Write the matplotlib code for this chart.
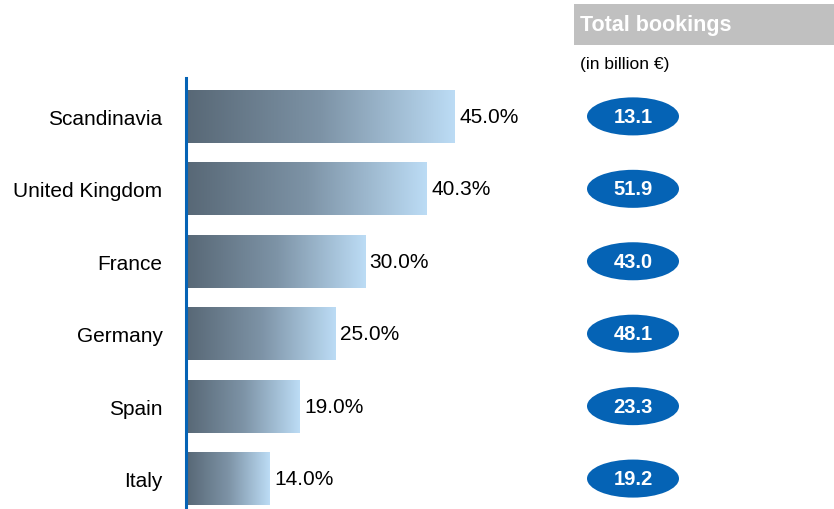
import numpy as np
import matplotlib.pyplot as plt
import matplotlib as mpl
from matplotlib.patches import Ellipse, Rectangle
from matplotlib.colors import LinearSegmentedColormap

mpl.rcParams['font.family'] = ['Liberation Sans', 'DejaVu Sans']

countries = ['Scandinavia', 'United Kingdom', 'France', 'Germany', 'Spain', 'Italy']
shares = [45.0, 40.3, 30.0, 25.0, 19.0, 14.0]
bookings = [13.1, 51.9, 43.0, 48.1, 23.3, 19.2]

W, H = 834, 510
fig = plt.figure(figsize=(W / 100, H / 100), dpi=100)

# main bar axes: x=0 sits at pixel ~186, 5.98 px per percent
ax = fig.add_axes([185.5 / W, 0, 60 * 5.98 / W, 431 / H])
grad = LinearSegmentedColormap.from_list('g', ['#586876', '#7d93a6', '#bcdcf5'])
ramp = np.linspace(0, 1, 256).reshape(1, -1)
bh = 0.73
for i, v in enumerate(shares):
    ax.imshow(ramp, cmap=grad, aspect='auto', interpolation='bicubic',
              extent=(0.2, v, i + bh / 2, i - bh / 2), zorder=2)
    ax.text(v + 0.8, i, f'{v:.1f}%', va='center', ha='left', fontsize=15)
ax.set_xlim(0, 60)
ax.set_ylim(5.42, -0.53)

ax.set_yticks(range(len(countries)))
ax.set_yticklabels(countries, fontsize=15)
ax.tick_params(axis='y', length=0, pad=16.5)
ax.set_xticks([])
for s in ['top', 'right', 'bottom']:
    ax.spines[s].set_visible(False)
ax.spines['left'].set_color('#0563b5')
ax.spines['left'].set_linewidth(2.2)

# bookings ellipses on the right
ax2 = fig.add_axes([574 / W, 0, 260 / W, 431 / H])
ax2.set_xlim(0, 260)
ax2.set_ylim(5.42, -0.53)
ax2.axis('off')
for i, b in enumerate(bookings):
    ax2.add_patch(Ellipse((59, i), 92, 0.525, facecolor='#0563b5', edgecolor='none'))
    ax2.text(59, i, f'{b:.1f}', ha='center', va='center', color='white',
             fontsize=14.5, fontweight='bold')

# header
fig.patches.append(Rectangle((574 / W, (H - 46) / H), 260 / W, 41 / H,
                             transform=fig.transFigure, facecolor='#c0c0c0',
                             edgecolor='none'))
fig.text(580 / W, (H - 25.5) / H, 'Total bookings', color='white', fontsize=15.5,
         fontweight='bold', va='center', ha='left')
fig.text(580 / W, (H - 64) / H, '(in billion €)', fontsize=12.5, va='center', ha='left')

fig.savefig('out.png', dpi=100)
